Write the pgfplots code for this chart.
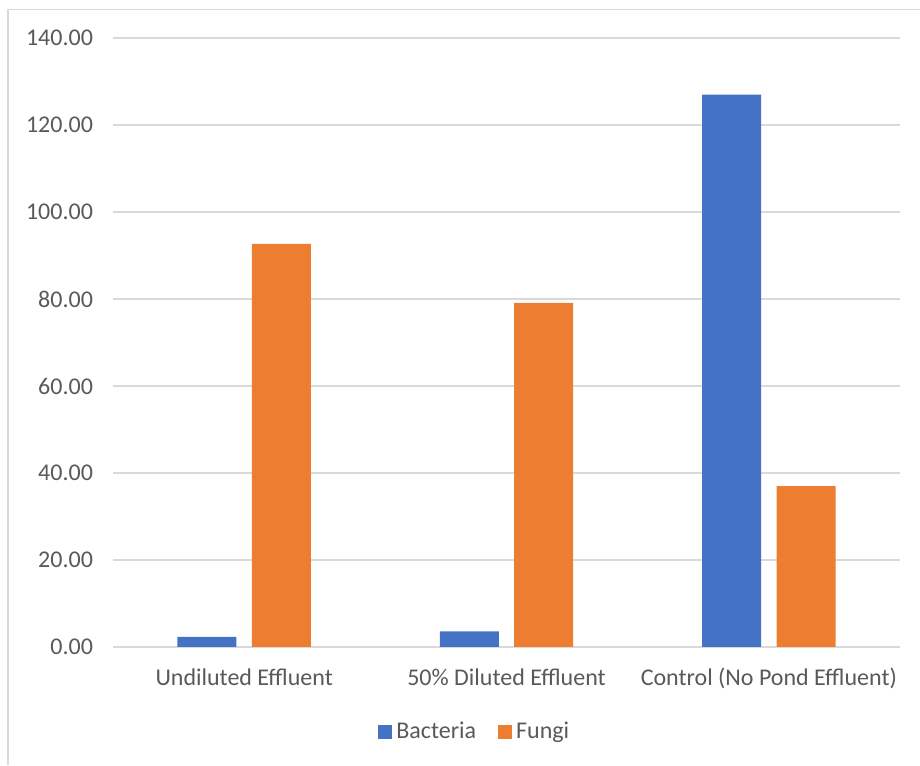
\documentclass[border=0pt]{standalone}
\usepackage{pgfplots}
\pgfplotsset{compat=1.18}
\usepackage{fontspec}
\setmainfont{Carlito}

\definecolor{bact}{HTML}{4472C4}
\definecolor{fung}{HTML}{ED7D31}
\definecolor{gridc}{HTML}{D9D9D9}
\definecolor{txt}{HTML}{595959}

\begin{document}
\begin{tikzpicture}
  % page area and chart frame
  \path[use as bounding box] (0,0) rectangle (460pt,382.5pt);
  \draw[gridc, line width=0.8pt] (4pt,0) -- (4pt,377.8pt) -- (460pt,377.8pt);

  \begin{axis}[
    at={(56.5pt,59pt)}, anchor=south west,
    scale only axis,
    width=393.5pt, height=304.5pt,
    xmin=-0.5, xmax=2.5,
    ymin=0, ymax=140,
    ytick={0,20,...,140},
    xtick={0,1,2},
    xticklabels={Undiluted Effluent, 50\% Diluted Effluent, Control (No Pond Effluent)},
    axis line style={draw=none},
    major tick length=0pt,
    ymajorgrids,
    grid style={gridc, line width=0.75pt},
    font=\fontsize{12pt}{14pt}\selectfont,
    tick label style={txt},
    yticklabel style={anchor=east, xshift=-6.5pt, /pgf/number format/.cd, fixed, fixed zerofill, precision=2},
    /pgf/number format/assume math mode=true,
    xticklabel style={anchor=base, yshift=-19.5pt},
    legend style={draw=none, fill=none, at={(0.461,-0.1396)}, anchor=center,
      legend columns=2, text=txt, font=\fontsize{12pt}{14pt}\selectfont,
      /tikz/every even column/.append style={column sep=9pt},
      legend cell align=left},
    clip=false,
  ]
    % baseline
    \draw[gridc, line width=0.9pt] (axis cs:-0.5,0) -- (axis cs:2.5,0);

    \addplot[ybar, bar width=29.5pt, bar shift=-18.6pt, fill=bact, draw=none,
      legend image code/.code={\fill[bact] (-0.5pt,-3.5pt) rectangle (6.5pt,3.5pt);}]
      coordinates {(0,2.3) (1,3.6) (2,127.0)};
    \addlegendentry{Bacteria}
    \addplot[ybar, bar width=29.5pt, bar shift=18.6pt, fill=fung, draw=none,
      legend image code/.code={\fill[fung] (-0.5pt,-3.5pt) rectangle (6.5pt,3.5pt);}]
      coordinates {(0,92.7) (1,79.1) (2,37.0)};
    \addlegendentry{Fungi}
  \end{axis}
\end{tikzpicture}
\end{document}
